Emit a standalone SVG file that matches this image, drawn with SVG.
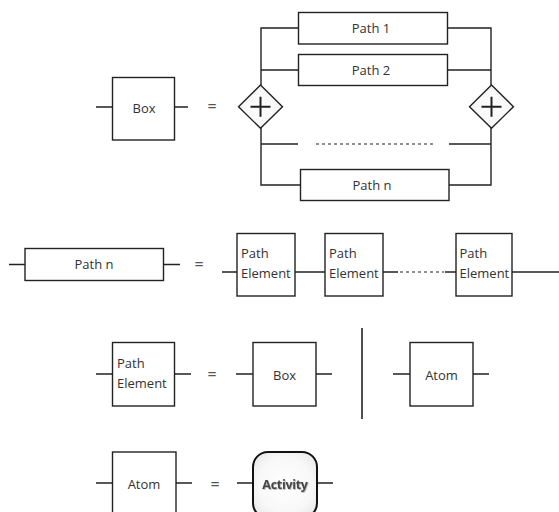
<svg xmlns="http://www.w3.org/2000/svg" width="559" height="512" viewBox="0 0 559 512">
<defs>
<style>
.bx{fill:#fff;stroke:#222;stroke-width:1.4}
.ln{fill:none;stroke:#222;stroke-width:1.4}
.dash{fill:none;stroke:#222;stroke-width:1.2;stroke-dasharray:3 3}
.t{font-family:"Open Sans","Noto Sans",sans-serif;font-size:13px;fill:#333}
.tc{text-anchor:middle}
.eq{font-family:"Open Sans","Noto Sans",sans-serif;font-size:16px;fill:#555;text-anchor:middle}
.dm{stroke:#222;stroke-width:1.4;fill:url(#dg)}
.plus{stroke:#222;stroke-width:2;fill:none}
</style>
<radialGradient id="dg" cx="0.5" cy="0.5" r="0.6">
<stop offset="0" stop-color="#ffffff"/>
<stop offset="0.6" stop-color="#f8f8f8"/>
<stop offset="1" stop-color="#e6e6e6"/>
</radialGradient>
<radialGradient id="ag" cx="0.5" cy="0.5" r="0.7">
<stop offset="0" stop-color="#ffffff"/>
<stop offset="0.6" stop-color="#f8f8f8"/>
<stop offset="1" stop-color="#e4e4e4"/>
</radialGradient>
<filter id="sh" x="-10%" y="-20%" width="120%" height="140%">
<feDropShadow dx="0.8" dy="0.8" stdDeviation="0.6" flood-color="#999" flood-opacity="0.8"/>
</filter>
</defs>
<rect width="559" height="512" fill="#fff"/>

<g id="connectors">
<path class="ln" d="M96 107H112M175 107H188"/>
<path class="ln" d="M261 85V28H298M448 28H491V85"/>
<path class="ln" d="M261 70H298M448 70H491"/>
<path class="ln" d="M261 128V185H300M449 185H491V128"/>
<path class="ln" d="M261 144H298M449 144H491"/>
<path class="dash" d="M316 144H434"/>
<path class="ln" d="M9 264.5H25M163 264.5H180"/>
<path class="ln" d="M222 272H237M295 272H325M383 272H398M445 272H456M512 272H559"/>
<path class="dash" d="M400 272H444"/>
<path class="ln" d="M96 374H112M175 374H191"/>
<path class="ln" d="M236 374H253M316 374H332"/>
<path class="ln" d="M362 328V419" style="stroke-width:1.6"/>
<path class="ln" d="M393 374H410M473 374H489"/>
<path class="ln" d="M96 483H112M176 483H192"/>
<path class="ln" d="M237 483H253M317 483H333"/>
</g>

<g id="box-def">
<rect class="bx" x="112.5" y="77.5" width="62" height="62.5"/>
<text class="t tc" x="144" y="113">Box</text>
</g>
<text class="eq" x="212" y="112">=</text>

<g id="gateway-left">
<path class="dm" d="M260.5 85L282.5 106.7L260.5 128.3L238.5 106.7Z"/>
<path class="plus" d="M250.5 106.7H270.5M260.5 96.7V116.7"/>
</g>
<g id="gateway-right">
<path class="dm" d="M491.5 85L513.5 106.7L491.5 128.3L469.5 106.7Z"/>
<path class="plus" d="M481.5 106.7H501.5M491.5 96.7V116.7"/>
</g>
<g id="path1">
<rect class="bx" x="298.5" y="12.5" width="149" height="31.5"/>
<text class="t tc" x="371" y="33">Path 1</text>
</g>
<g id="path2">
<rect class="bx" x="298.5" y="54.5" width="149" height="31"/>
<text class="t tc" x="371" y="75">Path 2</text>
</g>
<g id="pathn-top">
<rect class="bx" x="300.5" y="169.5" width="148.5" height="31"/>
<text class="t tc" x="372" y="190">Path n</text>
</g>

<g id="pathn-def">
<rect class="bx" x="25" y="248.5" width="138.5" height="32"/>
<text class="t tc" x="94" y="269">Path n</text>
</g>
<text class="eq" x="199" y="270">=</text>
<g id="pe1">
<rect class="bx" x="237" y="233.5" width="58" height="62.5"/>
<text class="t" x="241" y="258">Path</text>
<text class="t" x="241" y="278">Element</text>
</g>
<g id="pe2">
<rect class="bx" x="325" y="233.5" width="58" height="62.5"/>
<text class="t" x="329" y="258">Path</text>
<text class="t" x="329" y="278">Element</text>
</g>
<g id="pe3">
<rect class="bx" x="456" y="233.5" width="56" height="62.5"/>
<text class="t" x="459.5" y="258">Path</text>
<text class="t" x="459.5" y="278">Element</text>
</g>

<g id="pe-def">
<rect class="bx" x="112.5" y="342.5" width="62" height="63.5"/>
<text class="t" x="117" y="368">Path</text>
<text class="t" x="117" y="387.5">Element</text>
</g>
<text class="eq" x="212" y="380">=</text>
<g id="box-alt">
<rect class="bx" x="253" y="342.5" width="63" height="63.5"/>
<text class="t tc" x="284.5" y="380">Box</text>
</g>
<g id="atom-alt">
<rect class="bx" x="410" y="342.5" width="63" height="63.5"/>
<text class="t tc" x="441.5" y="380">Atom</text>
</g>

<g id="atom-def">
<rect class="bx" x="112.5" y="452" width="63.5" height="64"/>
<text class="t tc" x="144" y="489">Atom</text>
</g>
<text class="eq" x="215" y="490">=</text>
<g id="activity">
<rect x="253" y="452" width="64" height="66" rx="15" ry="15" fill="url(#ag)" stroke="#111" stroke-width="2"/>
<text x="285" y="489" font-family="'Open Sans','Noto Sans',sans-serif" font-size="12.5" font-weight="bold" fill="#444" text-anchor="middle" letter-spacing="-0.3" filter="url(#sh)">Activity</text>
</g>
</svg>
